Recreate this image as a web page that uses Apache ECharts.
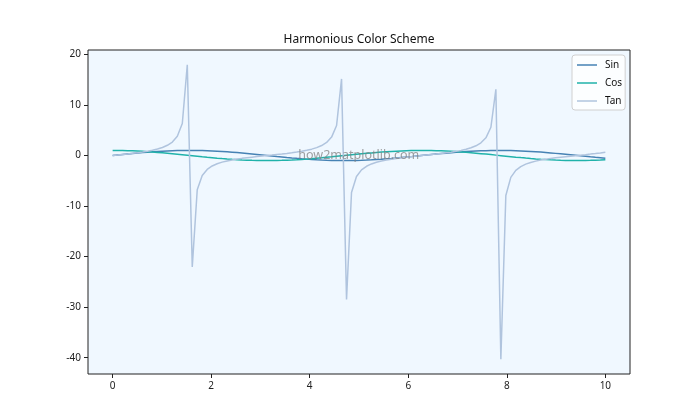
<!DOCTYPE html>
<html>
<head>
<meta charset="utf-8">
<script src="https://cdn.jsdelivr.net/npm/echarts@6/dist/echarts.min.js"></script>
<style>html,body{margin:0;padding:0;background:#fff}#c{width:700px;height:420px}</style>
</head>
<body>
<div id="c"></div>
<script>
const xValues = [0,0.101,0.202,0.303,0.404,0.505,0.606,0.707,0.808,0.909,1.010,1.111,1.212,1.313,1.414,1.515,1.616,1.717,1.818,1.919,2.020,2.121,2.222,2.323,2.424,2.525,2.626,2.727,2.828,2.929,3.030,3.131,3.232,3.333,3.434,3.535,3.636,3.737,3.838,3.939,4.040,4.141,4.242,4.343,4.444,4.545,4.646,4.747,4.848,4.949,5.051,5.152,5.253,5.354,5.455,5.556,5.657,5.758,5.859,5.960,6.061,6.162,6.263,6.364,6.465,6.566,6.667,6.768,6.869,6.970,7.071,7.172,7.273,7.374,7.475,7.576,7.677,7.778,7.879,7.980,8.081,8.182,8.283,8.384,8.485,8.586,8.687,8.788,8.889,8.990,9.091,9.192,9.293,9.394,9.495,9.596,9.697,9.798,9.899,10];
const sinValues = [0.000,0.101,0.201,0.298,0.393,0.484,0.570,0.650,0.723,0.789,0.847,0.896,0.936,0.967,0.988,0.998,0.999,0.989,0.970,0.940,0.901,0.852,0.795,0.730,0.657,0.578,0.493,0.403,0.308,0.211,0.111,0.010,-0.091,-0.191,-0.289,-0.384,-0.475,-0.561,-0.642,-0.716,-0.783,-0.841,-0.892,-0.933,-0.964,-0.986,-0.998,-0.999,-0.991,-0.972,-0.943,-0.905,-0.858,-0.801,-0.737,-0.665,-0.586,-0.502,-0.412,-0.318,-0.221,-0.121,-0.021,0.080,0.180,0.279,0.374,0.466,0.553,0.634,0.709,0.776,0.836,0.887,0.929,0.962,0.984,0.997,1.000,0.992,0.974,0.947,0.909,0.863,0.808,0.744,0.673,0.595,0.511,0.421,0.328,0.231,0.131,0.031,-0.070,-0.170,-0.269,-0.365,-0.457,-0.544];
const cosValues = [1.000,0.995,0.980,0.954,0.919,0.875,0.822,0.760,0.691,0.614,0.532,0.444,0.351,0.255,0.156,0.056,-0.045,-0.146,-0.245,-0.341,-0.434,-0.523,-0.606,-0.683,-0.754,-0.816,-0.870,-0.915,-0.951,-0.978,-0.994,-1.000,-0.996,-0.982,-0.957,-0.923,-0.880,-0.828,-0.767,-0.698,-0.623,-0.540,-0.453,-0.361,-0.265,-0.166,-0.066,0.035,0.136,0.235,0.332,0.425,0.514,0.598,0.676,0.747,0.810,0.865,0.911,0.948,0.975,0.993,1.000,0.997,0.984,0.960,0.927,0.885,0.833,0.773,0.706,0.631,0.549,0.462,0.370,0.275,0.176,0.076,-0.025,-0.125,-0.225,-0.322,-0.416,-0.505,-0.590,-0.668,-0.740,-0.804,-0.860,-0.907,-0.945,-0.973,-0.991,-1.000,-0.998,-0.985,-0.963,-0.931,-0.890,-0.839];
const tanValues = [0,0.101,0.205,0.313,0.428,0.553,0.693,0.854,1.046,1.284,1.593,2.020,2.667,3.795,6.331,17.952,-22.028,-6.783,-3.960,-2.753,-2.073,-1.630,-1.312,-1.068,-0.872,-0.708,-0.566,-0.440,-0.324,-0.216,-0.112,-0.010,0.091,0.194,0.301,0.415,0.540,0.678,0.837,1.025,1.257,1.557,1.969,2.586,3.642,5.935,15.147,-28.490,-7.302,-4.138,-2.844,-2.129,-1.668,-1.340,-1.090,-0.891,-0.724,-0.580,-0.452,-0.335,-0.226,-0.122,-0.021,0.081,0.183,0.290,0.403,0.526,0.663,0.819,1.004,1.231,1.522,1.920,2.509,3.501,5.584,13.097,-40.304,-7.906,-4.333,-2.940,-2.187,-1.707,-1.369,-1.113,-0.909,-0.740,-0.594,-0.465,-0.347,-0.237,-0.133,-0.031,0.070,0.173,0.279,0.392,0.513,0.648];
const xTicks = [0,2,4,6,8,10];
const yTicks = [-40,-30,-20,-10,0,10,20];
const seriesNames = ['Sin','Cos','Tan'];
const titleText = 'Harmonious Color Scheme';
const watermark = 'how2matplotlib.com';

const colors = ['#4682B4','#20B2AA','#B0C4DE'];
const FONT = '"Noto Sans", "DejaVu Sans", sans-serif';
const pairs = v => xValues.map((x,i)=>[x, v[i]]);
const chart = echarts.init(document.getElementById('c'), null, {renderer:'canvas'});
const axisCommon = {
  type:'value',
  axisLine:{show:false, onZero:false},
  splitLine:{show:false},
  axisTick:{show:true, inside:false, length:4, lineStyle:{color:'#222', width:1}},
  axisLabel:{color:'#222', fontSize:10, fontFamily:FONT, margin:7}
};
const lineIcon = 'path://M0,0H20V1.5H0Z';
chart.setOption({
  animation:false,
  backgroundColor:'#ffffff',
  color:colors,
  title:{text:titleText, left:359, top:34, padding:0, textAlign:'center',
    textStyle:{fontSize:12, fontWeight:'normal', color:'#111', fontFamily:FONT}},
  grid:{left:88, right:70, top:50, bottom:46, show:true, backgroundColor:'#F0F8FF', borderColor:'#222', borderWidth:1},
  legend:{orient:'vertical', left:572, top:55, padding:[4,3,3,5], itemGap:6, itemWidth:20, itemHeight:12,
    icon:lineIcon,
    backgroundColor:'rgba(255,255,255,0.8)', borderColor:'#d0d0d0', borderWidth:1, borderRadius:3,
    textStyle:{fontSize:10, lineHeight:12, color:'#111', fontFamily:FONT, padding:[0,0,0,3]},
    data:seriesNames},
  xAxis:Object.assign({}, axisCommon, {min:-0.5, max:10.5, position:'bottom',
    axisTick:Object.assign({}, axisCommon.axisTick, {customValues:xTicks}),
    axisLabel:Object.assign({}, axisCommon.axisLabel, {customValues:xTicks})}),
  yAxis:Object.assign({}, axisCommon, {min:-43.22, max:20.87, position:'left',
    axisTick:Object.assign({}, axisCommon.axisTick, {customValues:yTicks}),
    axisLabel:Object.assign({}, axisCommon.axisLabel, {customValues:yTicks})}),
  graphic:[{type:'text', x:358.75, y:155, silent:true, z:10,
    style:{text:watermark, fontSize:12.5, fontFamily:FONT, fill:'rgba(128,128,128,0.75)', align:'center', verticalAlign:'middle'}}],
  series:[
    {name:seriesNames[0], type:'line', data:pairs(sinValues), symbol:'none', lineStyle:{width:1.5, color:colors[0]}, z:2},
    {name:seriesNames[1], type:'line', data:pairs(cosValues), symbol:'none', lineStyle:{width:1.5, color:colors[1]}, z:3},
    {name:seriesNames[2], type:'line', data:pairs(tanValues), symbol:'none', lineStyle:{width:1.5, color:colors[2]}, z:4}
  ]
});
</script>
</body>
</html>
